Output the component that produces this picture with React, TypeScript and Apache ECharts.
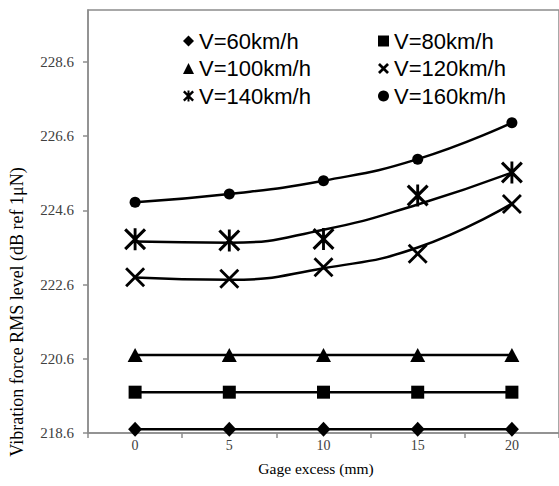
import React, { useEffect, useRef } from "react";
import * as echarts from "echarts";

const categories = ["0", "5", "10", "15", "20"];
const v60 = [218.7, 218.7, 218.7, 218.7, 218.7];
const v80 = [219.7, 219.7, 219.7, 219.7, 219.7];
const v100 = [220.7, 220.7, 220.7, 220.7, 220.7];
const v120 = [222.8, 222.76, 223.07, 223.43, 224.77];
const v140 = [223.82, 223.79, 223.83, 225.0, 225.62];
const v160 = [224.82, 225.04, 225.4, 225.98, 226.96];
const trend120 = [222.79, 222.73, 223.04, 223.6, 224.78];
const trend140 = [223.76, 223.73, 224.08, 224.76, 225.62];
const yTicks = [218.6, 220.6, 222.6, 224.6, 226.6, 228.6];
const seriesNames = ["V=60km/h", "V=80km/h", "V=100km/h", "V=120km/h", "V=140km/h", "V=160km/h"];
const yTitle = "Vibration force RMS level (dB ref 1\u03bcN)";
const xTitle = "Gage excess (mm)";

const X_PATH = "path://M2,0L10,8L18,0L20,2L12,10L20,18L18,20L10,12L2,20L0,18L8,10L0,2Z";
const STAR_PATH =
  "path://M2,0L10,8L18,0L20,2L12,10L20,18L18,20L10,12L2,20L0,18L8,10L0,2ZM8.7,0L11.3,0L11.3,20L8.7,20Z";
const X_ICON = "path://M3.5,0L10,6.5L16.5,0L20,3.5L13.5,10L20,16.5L16.5,20L10,13.5L3.5,20L0,16.5L6.5,10L0,3.5Z";
const STAR_ICON =
  "path://M3,0L10,7L17,0L20,3L13,10L20,17L17,20L10,13L3,20L0,17L7,10L0,3ZM8.2,0L11.8,0L11.8,20L8.2,20Z";

export default function App() {
  const ref = useRef<HTMLDivElement>(null);
  useEffect(() => {
    if (!ref.current) return;
    const chart = echarts.init(ref.current, null, { renderer: "svg" });
    const black = "#000";
    const lineW = 2.5;
    const mk = (name: string, data: number[], symbol: string, size: any, opts: any = {}) => ({
      name,
      type: "line",
      data,
      symbol,
      symbolSize: size,
      showSymbol: true,
      lineStyle: { color: black, width: lineW, ...(opts.lineStyle || {}) },
      itemStyle: { color: black },
      smooth: opts.smooth || false,
      z: 3,
    });
    const trend = (name: string, data: number[]) => ({
      name,
      type: "line",
      data,
      symbol: "none",
      smooth: true,
      lineStyle: { color: black, width: lineW },
      z: 2,
    });
    const legendText = { fontFamily: "Liberation Sans", fontSize: 22, color: "#000" };
    chart.setOption({
      animation: false,
      backgroundColor: "#fff",
      grid: {
        left: 88,
        top: 10,
        right: -4,
        bottom: 53,
        show: true,
        borderColor: "#8c8c8c",
        borderWidth: 1.5,
      },
      legend: [
        {
          left: 178,
          top: 25,
          orient: "vertical",
          itemWidth: 11,
          itemHeight: 11,
          itemGap: 5.5,
          selectedMode: false,
          textStyle: legendText,
          data: [
            { name: seriesNames[0], icon: "diamond" },
            { name: seriesNames[2], icon: "triangle" },
            { name: seriesNames[4], icon: STAR_ICON },
          ],
        },
        {
          left: 373,
          top: 25,
          orient: "vertical",
          itemWidth: 11,
          itemHeight: 11,
          itemGap: 5.5,
          selectedMode: false,
          textStyle: legendText,
          data: [
            { name: seriesNames[1], icon: "rect" },
            { name: seriesNames[3], icon: X_ICON },
            { name: seriesNames[5], icon: "circle" },
          ],
        },
      ],
      xAxis: {
        type: "category",
        data: categories,
        boundaryGap: true,
        axisLine: { lineStyle: { color: "#8c8c8c", width: 1.5 } },
        axisTick: { show: true, alignWithLabel: false, length: 5, lineStyle: { color: "#8c8c8c", width: 1.5 } },
        axisLabel: { margin: 5, fontFamily: "Liberation Serif", fontSize: 14, color: "#404040" },
        splitLine: { show: false },
      },
      yAxis: {
        type: "value",
        min: 218.6,
        max: 230,
        axisLine: { show: true, lineStyle: { color: "#8c8c8c", width: 1.5 } },
        axisTick: { show: true, length: 5, customValues: yTicks, lineStyle: { color: "#8c8c8c", width: 1.5 } },
        axisLabel: {
          customValues: yTicks,
          margin: 14,
          fontFamily: "Liberation Serif",
          fontSize: 15,
          color: "#404040",
          formatter: (v: number) => v.toFixed(1),
        },
        splitLine: { show: false },
      },
      graphic: [
        {
          type: "text",
          x: 17,
          y: 312,
          rotation: Math.PI / 2,
          style: {
            text: yTitle,
            fontFamily: "Liberation Serif",
            fontSize: 18,
            fill: "#000",
            textAlign: "center",
            textVerticalAlign: "middle",
          },
        },
        {
          type: "text",
          x: 316,
          y: 468,
          style: {
            text: xTitle,
            fontFamily: "Liberation Serif",
            fontSize: 15.5,
            fill: "#000",
            textAlign: "center",
            textVerticalAlign: "middle",
          },
        },
      ],
      series: [
        mk(seriesNames[0], v60, "diamond", [14, 15]),
        mk(seriesNames[1], v80, "rect", 13),
        mk(seriesNames[2], v100, "triangle", [15, 14]),
        mk(seriesNames[3], v120, X_PATH, 20, { lineStyle: { width: 0, opacity: 0 } }),
        mk(seriesNames[4], v140, STAR_PATH, 22, { lineStyle: { width: 0, opacity: 0 } }),
        mk(seriesNames[5], v160, "circle", 11, { smooth: true }),
        trend("trend120", trend120),
        trend("trend140", trend140),
      ],
    });
    return () => chart.dispose();
  }, []);
  return (
    <div
      ref={ref}
      style={{ position: "absolute", left: 0, top: 0, width: 559, height: 486, background: "#fff" }}
    />
  );
}
